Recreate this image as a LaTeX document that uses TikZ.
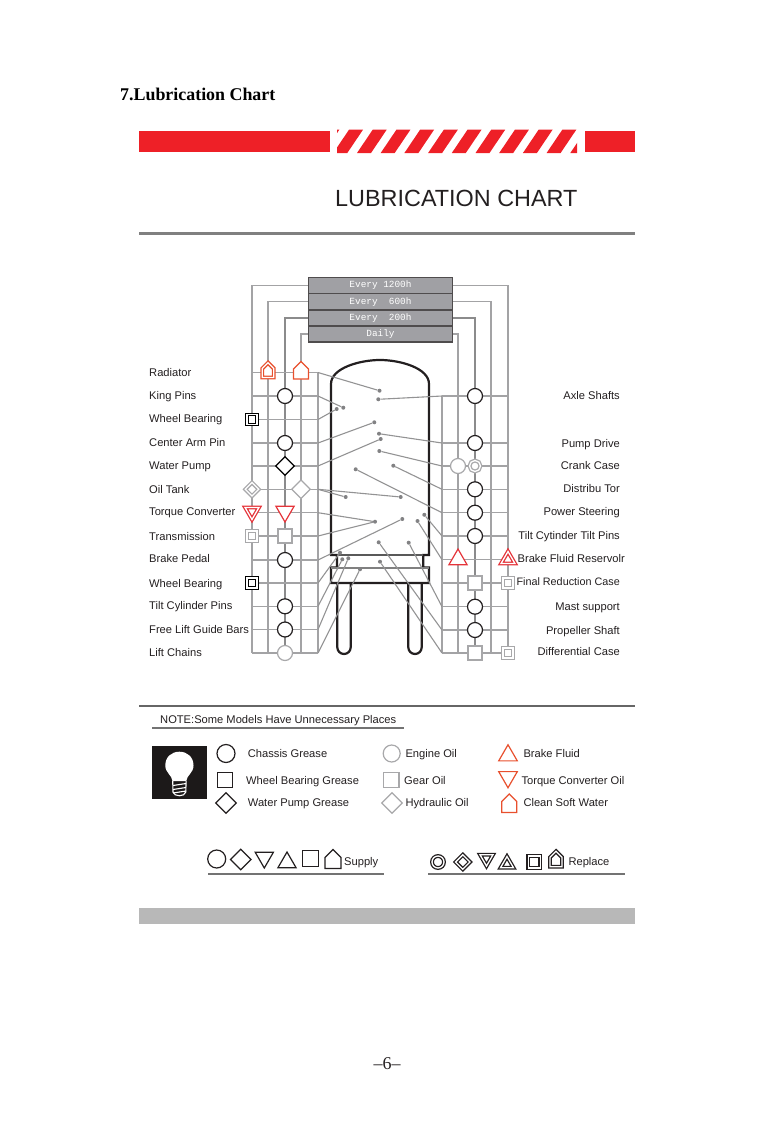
\documentclass[tikz,border=0pt]{standalone}
\usepackage{fontspec}
\setmainfont{Liberation Sans}
\setmonofont{Liberation Mono}
\newfontfamily\headfont{Liberation Serif}
\usepackage{tikz}
\usetikzlibrary{shapes.geometric, shapes.symbols}

\definecolor{barred}{HTML}{EE2027}
\definecolor{markred}{HTML}{E5343A}
\definecolor{waterred}{HTML}{E8502E}
\definecolor{linegray}{HTML}{A3A3A5}
\definecolor{markgray}{HTML}{A8A8AA}
\definecolor{boxgray}{HTML}{A0A0A4}
\definecolor{ink}{HTML}{231F20}

\tikzset{
	tlabel/.style={font=\fontsize{11.15}{13}\selectfont, text=ink, inner sep=0pt, anchor=base west},
	tlabelr/.style={tlabel, anchor=base east},
	gridline/.style={draw=linegray, line width=1.4pt},
	gridmain/.style={draw=linegray!85!black, line width=1.7pt},
	leader/.style={draw=linegray!90!black, line width=1.1pt},
	dotmark/.style={circle, fill=linegray!80!black, inner sep=0pt, minimum size=4pt},
	schedbox/.style={draw=ink!80, line width=1.3pt, fill=boxgray, text=white, minimum width=144pt, minimum height=16pt, inner sep=0pt, font=\ttfamily\fontsize{9.4}{11}\selectfont},
	rule/.style={draw=black!55, line width=2pt},
	markbase/.style={fill=white, inner sep=0pt, line width=1.2pt},
	roundm/.style={markbase, circle, minimum size=#1},
	roundm/.default=15pt,
	squarem/.style={markbase, rectangle, minimum size=#1},
	squarem/.default=14pt,
	diamondm/.style={markbase, diamond, aspect=1, minimum size=#1},
	diamondm/.default=19pt,
	trianglem/.style={markbase, regular polygon, regular polygon sides=3, minimum size=#1},
	trianglem/.default=21pt,
	trianglev/.style={trianglem=#1, shape border rotate=180},
	trianglev/.default=21pt,
	housem/.style={markbase, signal, signal to=north, signal from=nowhere, minimum width=15pt, minimum height=10pt},
	twin/.style={double=white, double distance=1.3pt, line width=1.3pt}
}

\begin{document}
\begin{tikzpicture}[x=1pt, y=-1pt]
	\useasboundingbox (0,0) rectangle (774,1122);

	% Heading
	\node[tlabel, font=\headfont\bfseries\fontsize{17.9}{20}\selectfont, text=black] (pagetitle) at (120,100) {7.Lubrication Chart};
	\fill[barred] (139,131) rectangle (330,152);
	\fill[barred] (585,131) rectangle (635,152);
	\begin{scope}
		\clip (337,129.7) rectangle (577,153);
		\foreach \i in {-1,...,10}
			\fill[barred] ({349+23.7*\i},129.7) -- ({363+23.7*\i},129.7) -- ({347.3+23.7*\i},153) -- ({333.3+23.7*\i},153) -- cycle;
	\end{scope}
	\node[tlabel, font=\fontsize{23.4}{28}\selectfont] (charttitle) at (335,206) {LUBRICATION CHART};
	\draw[rule, line width=3pt, draw=black!50] (139,233) -- (635,233);

	% Body of the truck
	\draw[ink, line width=2.2pt] (331,555) -- (331,384) .. controls (331,368) and (360,360) .. (380,360) .. controls (400,360) and (429,368) .. (429,384) -- (429,555) -- (423.3,555) -- (423.3,567.5) -- (429,567.5) -- (429,583) -- (331,583) -- (331,567.5) -- (337,567.5) -- (337,555) -- cycle;
	\draw[ink, line width=2.2pt] (337.3,583) -- (337.3,647.3) arc (180:0:6.7) -- (350.7,583);
	\draw[ink, line width=2.2pt] (408.3,583) -- (408.3,647.3) arc (180:0:6.7) -- (421.7,583);
	\draw[draw=black!65, line width=1.8pt] (337,555) -- (423.3,555);
	\draw[draw=black!50, line width=1.6pt] (331,568) -- (429,568);

	% Service intervals
	\node[schedbox] (h1200) at (380.5,285.5) {Every 1200h};
	\node[schedbox] (h600) at (380.5,301.7) {Every\ \ 600h};
	\node[schedbox] (h200) at (380.5,318) {Every\ \ 200h};
	\node[schedbox] (daily) at (380.5,334) {Daily};

	% Grid, left side
	\coordinate (lb1) at (252,653);
	\coordinate (lb2) at (268,653);
	\coordinate (lb3) at (285,653);
	\coordinate (lb4) at (301,653);
	\coordinate (lt5) at (318,372.5);
	\coordinate (lb5) at (318,653);
	\draw[gridline] (h1200.west) -| (lb1);
	\draw[gridline] (h600.west) -| (lb2);
	\draw[gridmain] (h200.west) -| (lb3);
	\draw[gridline] (daily.west) -| (lb4);
	\draw[gridline] (lt5) -- (lb5);
	\foreach \n/\y in {1/372.5,2/396,3/419.5,4/443,5/466,6/489.3,7/512.7,8/536,9/560,10/583,11/606.3,12/629.5,13/653}{
		\coordinate (la\n) at (252,\y);
		\coordinate (le\n) at (318,\y);
		\draw[gridline] (la\n) -- (le\n);
	}

	% Grid, right side
	\coordinate (rt1) at (442,396);
	\coordinate (rb1) at (442,653);
	\coordinate (rb2) at (458,653);
	\coordinate (rb3) at (475,653);
	\coordinate (rb4) at (491,653);
	\coordinate (rb5) at (508,653);
	\draw[gridline] (rt1) -- (rb1);
	\draw[gridline] (daily.east) -| (rb2);
	\draw[gridmain] (h200.east) -| (rb3);
	\draw[gridline] (h600.east) -| (rb4);
	\draw[gridline] (h1200.east) -| (rb5);
	\foreach \n/\y in {1/396,2/443,3/466,4/489.3,5/512.7,6/536,7/559.7,8/583,9/606.7,10/630,11/653}{
		\coordinate (ra\n) at (442,\y);
		\coordinate (re\n) at (508,\y);
		\draw[gridline] (ra\n) -- (re\n);
	}

	% Leaders, left side
	\foreach \n/\x/\y in {1/379.5/390.7,2/343.3/407.7,3/336.7/409,4/374.3/422.3,5/380.7/439,9/402.3/519,10/340/552.7,11/342.3/559.3,12/348.3/558.3,13/360/569.3}{
		\node[dotmark] (ld\n) at (\x,\y) {};
		\draw[leader] (le\n) -- (ld\n);
	}
	\node[dotmark] (oila) at (345.7,497) {};
	\node[dotmark] (oilb) at (400.7,497) {};
	\node[dotmark] (trans) at (375,521.7) {};
	\draw[leader] (le6) -- (oila);
	\draw[leader] (le6) -- (oilb);
	\draw[leader] (le7) -- (trans);
	\draw[leader] (le8) -- (trans);

	% Leaders, right side
	\foreach \n/\x/\y in {1/378.3/399.3,2/379/433.7,3/379.3/451,4/393.3/465.7,5/355.7/469.3,6/424.3/514.8,7/417.5/521,9/408.7/542.7,10/378.7/542.3,11/380/561.7}{
		\node[dotmark] (rd\n) at (\x,\y) {};
		\draw[leader] (ra\n) -- (rd\n);
	}

	% Marks, left side
	\node[housem, twin, draw=waterred, minimum width=11.5pt, minimum height=9pt] (radtwin) at (268,373) {};
	\node[housem, draw=waterred] (radwater) at (301,374) {};
	\node[roundm, draw=ink] (kingpins) at (285,396) {};
	\node[squarem=10pt, twin, draw=black] (wheelup) at (252,419.5) {};
	\node[roundm, draw=ink] (centerarm) at (285,443) {};
	\node[diamondm, draw=black] (waterpump) at (285,466) {};
	\node[diamondm=14pt, twin, draw=markgray] (oiltwin) at (252,489.3) {};
	\node[diamondm, draw=markgray] (oiltank) at (301,489.3) {};
	\node[trianglev=16pt, twin, draw=markred] (torquetwin) at (252,511.5) {};
	\node[trianglev, draw=markred] (torque) at (285,511.5) {};
	\node[squarem=10pt, twin, draw=markgray] (transtwin) at (252,536) {};
	\node[squarem, draw=markgray] (transmission) at (285,536) {};
	\node[roundm, draw=ink] (brakepedal) at (285,560) {};
	\node[squarem=10pt, twin, draw=black] (wheeldown) at (252,583) {};
	\node[roundm, draw=ink] (tiltpins) at (285,606.3) {};
	\node[roundm, draw=ink] (guidebars) at (285,629.5) {};
	\node[roundm, draw=markgray] (liftchains) at (285,653) {};

	% Marks, right side
	\node[roundm, draw=ink] (axle) at (475,396) {};
	\node[roundm, draw=ink] (pumpdrive) at (475,443) {};
	\node[roundm, draw=markgray] (crankoil) at (458,466) {};
	\node[roundm=11pt, twin, draw=markgray] (cranktwin) at (475,466) {};
	\node[roundm, draw=ink] (distribu) at (475,489.3) {};
	\node[roundm, draw=ink] (steering) at (475,512.7) {};
	\node[roundm, draw=ink] (tiltcyl) at (475,536) {};
	\node[trianglem, draw=markred] (brakefluid) at (458,559.5) {};
	\node[trianglem=16pt, twin, draw=markred] (braketwin) at (508,559.5) {};
	\node[squarem, draw=markgray] (finalcase) at (475,583) {};
	\node[squarem=10pt, twin, draw=markgray] (finaltwin) at (508,583) {};
	\node[roundm, draw=ink] (mast) at (475,606.7) {};
	\node[roundm, draw=ink] (propeller) at (475,630) {};
	\node[squarem, draw=markgray] (diffcase) at (475,653) {};
	\node[squarem=10pt, twin, draw=markgray] (difftwin) at (508,653) {};

	% Labels, left side
	\node[tlabel] (tradiator) at (149,376.7) {Radiator};
	\node[tlabel] (tking) at (149,399.3) {King Pins};
	\node[tlabel] (twheela) at (149,422.8) {Wheel Bearing};
	\node[tlabel] (tcenter) at (149,446.8) {Center Arm Pin};
	\node[tlabel] (twater) at (149,469) {Water Pump};
	\node[tlabel] (toil) at (149,493.3) {Oil Tank};
	\node[tlabel] (ttorque) at (149,515) {Torque Converter};
	\node[tlabel] (ttrans) at (149,540) {Transmission};
	\node[tlabel] (tbrake) at (149,562) {Brake Pedal};
	\node[tlabel] (twheelb) at (149,587) {Wheel Bearing};
	\node[tlabel] (ttilt) at (149,609) {Tilt Cylinder Pins};
	\node[tlabel] (tfree) at (149,633) {Free Lift Guide Bars};
	\node[tlabel] (tlift) at (149,656.3) {Lift Chains};

	% Labels, right side
	\node[tlabelr] (taxle) at (620,399) {Axle Shafts};
	\node[tlabelr] (tpump) at (620,447.7) {Pump Drive};
	\node[tlabelr] (tcrank) at (620,469.7) {Crank Case};
	\node[tlabelr] (tdist) at (620,492.7) {Distribu Tor};
	\node[tlabelr] (tpower) at (620,515) {Power Steering};
	\node[tlabelr] (ttiltc) at (620,539) {Tilt Cytinder Tilt Pins};
	\node[tlabelr] (tfluid) at (625,562) {Brake Fluid Reservolr};
	\node[tlabelr, font=\fontsize{10.8}{13}\selectfont] (tfinal) at (620,585) {Final Reduction Case};
	\node[tlabelr] (tmast) at (620,610.7) {Mast support};
	\node[tlabelr] (tprop) at (620,634) {Propeller Shaft};
	\node[tlabelr] (tdiff) at (620,655) {Differential Case};

	% Note and legend
	\draw[rule, draw=black!60] (139,706) -- (635,706);
	\node[tlabel] (note) at (160,723) {NOTE:Some Models Have Unnecessary Places};
	\draw[rule] (152,728) -- (404,728);

	% Bulb
	\fill[ink!80!black] (152.3,746.3) rectangle (207.3,799.3);
	\fill[white] (172.5,781) .. controls (172,775) and (165.3,773) .. (165.3,765.5) .. controls (165.3,757) and (171.5,751.7) .. (179.4,751.7) .. controls (187.3,751.7) and (193.5,757) .. (193.5,765.5) .. controls (193.5,773) and (186.8,775) .. (186.3,781) -- cycle;
	\draw[white, line width=1.1pt] (172.7,781) -- (173,792) .. controls (174,797) and (184.8,797) .. (185.8,792) -- (186.1,781);
	\draw[white, line width=1.1pt] (173,785.5) -- (186,783.5);
	\draw[white, line width=1.1pt] (173,789.5) -- (186,787.5);
	\draw[white, line width=1.1pt] (173,793) -- (186,791);

	\node[roundm=18pt, draw=ink] (kchassis) at (226,753.5) {};
	\node[tlabel] (tchassis) at (247.7,757.3) {Chassis Grease};
	\node[roundm=17pt, draw=markgray] (kengine) at (391.7,753.5) {};
	\node[tlabel] (tengine) at (405.3,757.3) {Engine Oil};
	\node[trianglem=21.5pt, draw=waterred] (kfluid) at (508,755.5) {};
	\node[tlabel] (tkfluid) at (523.3,757.3) {Brake Fluid};
	\node[squarem=15.5pt, draw=ink] (kbearing) at (225,780) {};
	\node[tlabel] (tbearing) at (246,784) {Wheel Bearing Grease};
	\node[squarem=15.5pt, draw=markgray] (kgear) at (391.3,780) {};
	\node[tlabel] (tgear) at (404,784) {Gear Oil};
	\node[trianglev=21.5pt, draw=waterred] (kconv) at (508,777) {};
	\node[tlabel] (tconv) at (521.3,784) {Torque Converter Oil};
	\node[diamondm=21pt, draw=ink] (kpump) at (226,803) {};
	\node[tlabel] (tkpump) at (247.7,806.7) {Water Pump Grease};
	\node[diamondm=21pt, draw=markgray] (khyd) at (392,803) {};
	\node[tlabel] (thyd) at (405.3,806.7) {Hydraulic Oil};
	\node[housem, draw=waterred, minimum height=11pt] (ksoft) at (509.3,807) {};
	\node[tlabel] (tsoft) at (523.3,806.7) {Clean Soft Water};

	% Supply
	\node[roundm=18pt, draw=ink] (scircle) at (216.7,859) {};
	\node[diamondm=21pt, draw=ink] (sdiamond) at (240.8,859.5) {};
	\node[trianglev=21pt, draw=ink] (sdown) at (264.3,857.5) {};
	\node[trianglem=21pt, draw=ink] (sup) at (287,862.5) {};
	\node[squarem=16pt, draw=ink] (ssquare) at (310.5,858.5) {};
	\node[housem, draw=ink, minimum width=16pt, minimum height=11pt] (shouse) at (333,863) {};
	\node[tlabel] (tsupply) at (344,865.7) {Supply};
	\draw[rule] (208,873.7) -- (384,873.7);

	% Replace
	\node[roundm=12pt, twin, draw=ink] (rcircle) at (438,862) {};
	\node[diamondm=15pt, twin, draw=ink] (rdiamond) at (462.8,862) {};
	\node[trianglev=15pt, twin, draw=ink] (rdown) at (486.5,858.5) {};
	\node[trianglem=15pt, twin, draw=ink] (rup) at (507,864) {};
	\node[squarem=12pt, twin, draw=ink] (rsquare) at (534.2,862) {};
	\node[housem, twin, draw=ink, minimum width=12pt, minimum height=9.5pt] (rhouse) at (556,862) {};
	\node[tlabel] (treplace) at (568.3,865.7) {Replace};
	\draw[rule] (428.3,874) -- (625,874);

	% Footer
	\fill[black!28] (139,908) rectangle (635,924);
	\node[tlabel, anchor=base, font=\headfont\fontsize{18}{20}\selectfont] (pageno) at (387,1069) {–6–};
\end{tikzpicture}
\end{document}
